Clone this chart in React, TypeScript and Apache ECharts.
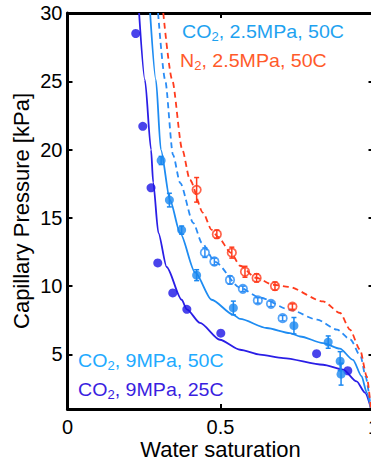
import React, { useEffect, useRef } from "react";
import * as echarts from "echarts";

const FONT = "'Liberation Sans', Arial, Helvetica, sans-serif";

// Axis ticks
const xTicks = [0, 0.5, 1];
const yTickValues = [5, 10, 15, 20, 25];
const yLabelValues = [5, 10, 15, 20, 25, 30];

// Measured points: water saturation (Sw) and capillary pressure (kPa)
const co2_9MPa_25C_sw = [0.223, 0.246, 0.273, 0.295, 0.344, 0.39, 0.501, 0.814, 0.916];
const co2_9MPa_25C_pc = [28.5, 21.7, 17.2, 11.7, 9.5, 8.3, 6.55, 5.05, 3.8];

const co2_9MPa_50C_sw = [0.306, 0.333, 0.373, 0.422, 0.542, 0.74, 0.852, 0.891, 0.894];
const co2_9MPa_50C_pc = [19.2, 16.3, 14.1, 10.8, 8.4, 7.1, 5.9, 4.5, 3.55];
const co2_9MPa_50C_err = [0.3, 0.5, 0.3, 0.4, 0.5, 0.6, 0.45, 0.7, 0.8];

const co2_2_5MPa_sw = [0.449, 0.48, 0.531, 0.573, 0.622, 0.665, 0.703];
const co2_2_5MPa_pc = [12.45, 11.8, 10.45, 9.8, 8.95, 8.7, 7.65];
const co2_2_5MPa_err = [0.35, 0.25, 0.3, 0.2, 0.2, 0.2, 0.2];

const n2_2_5MPa_sw = [0.422, 0.488, 0.537, 0.58, 0.618, 0.678, 0.735];
const n2_2_5MPa_pc = [17.05, 13.8, 12.45, 11.05, 10.6, 10.0, 8.5];
const n2_2_5MPa_err = [0.9, 0.3, 0.4, 0.4, 0.3, 0.3, 0.2];

// Fitted capillary pressure curves
const fit_co2_9MPa_25C_sw = [0.234, 0.253, 0.273, 0.28, 0.297, 0.324, 0.373, 0.39, 0.433, 0.498, 0.564, 0.629, 0.705, 0.835, 0.901, 0.945, 0.972, 0.991];
const fit_co2_9MPa_25C_pc = [30, 25.1, 20.0, 17.6, 13.9, 11.4, 9.0, 8.3, 7.3, 6.07, 5.34, 4.98, 4.73, 4.24, 3.88, 3.02, 2.2, 1.1];

const fit_co2_9MPa_50C_sw = [0.27, 0.289, 0.305, 0.335, 0.368, 0.417, 0.471, 0.542, 0.564, 0.651, 0.727, 0.76, 0.835, 0.89, 0.933, 0.961, 0.978, 0.991];
const fit_co2_9MPa_50C_pc = [30, 25.1, 20.0, 16.3, 13.9, 11.0, 9.0, 7.9, 7.6, 6.93, 6.56, 6.31, 5.83, 5.42, 4.6, 3.4, 2.2, 1.1];

const fit_co2_2_5MPa_sw = [0.296, 0.319, 0.345, 0.368, 0.411, 0.439, 0.482, 0.564, 0.629, 0.727, 0.816, 0.881, 0.925, 0.958, 0.974, 0.991];
const fit_co2_2_5MPa_pc = [30, 25.1, 19.6, 17.56, 14.63, 13.17, 11.78, 9.88, 9.15, 8.27, 7.54, 6.81, 6.07, 4.85, 3.39, 1.1];

const fit_n2_2_5MPa_sw = [0.313, 0.342, 0.375, 0.4, 0.443, 0.471, 0.492, 0.534, 0.564, 0.616, 0.672, 0.721, 0.835, 0.891, 0.923, 0.956, 0.978, 0.991];
const fit_n2_2_5MPa_pc = [30, 25.1, 20.0, 17.78, 15.37, 14.12, 13.6, 12.44, 11.49, 10.61, 10.1, 9.95, 8.88, 8.03, 6.81, 5.34, 3.39, 1.1];

const C_DARK = "#2a1ee6";
const C_MID = "#1e8cf2";
const C_DASH = "#2a8cf5";
const C_RED = "#ff3c1e";

const pairs = (xs: number[], ys: number[]) => xs.map((x, i) => [x, ys[i]]);

function fitLine(sw: number[], pc: number[], color: string, dashed: boolean) {
  return {
    type: "line",
    data: pairs(sw, pc),
    showSymbol: false,
    smooth: 0.25,
    smoothMonotone: "x",
    silent: true,
    z: 2,
    lineStyle: { color, width: 1.8, type: dashed ? [6, 4] : "solid" },
  };
}

function errorBars(sw: number[], pc: number[], err: number[], color: string) {
  return {
    type: "custom",
    silent: true,
    z: 5,
    data: sw.map((x, i) => [x, pc[i] - err[i], pc[i] + err[i]]),
    encode: { x: 0, y: [1, 2] },
    renderItem: (_params: any, api: any) => {
      const lo = api.coord([api.value(0), api.value(1)]);
      const hi = api.coord([api.value(0), api.value(2)]);
      const w = 2.5;
      const style = { stroke: color, lineWidth: 1.5 };
      return {
        type: "group",
        children: [
          { type: "line", shape: { x1: lo[0], y1: lo[1], x2: hi[0], y2: hi[1] }, style },
          { type: "line", shape: { x1: lo[0] - w, y1: lo[1], x2: lo[0] + w, y2: lo[1] }, style },
          { type: "line", shape: { x1: hi[0] - w, y1: hi[1], x2: hi[0] + w, y2: hi[1] }, style },
        ],
      };
    },
  };
}

function legendText(x: number, y: number, gas: string, rest: string, color: string) {
  return {
    type: "text",
    x,
    y,
    z: 10,
    scaleX: 1.09,
    style: {
      text: `{n|${gas}}{s|2}{n|${rest}}`,
      fill: color,
      align: "left",
      verticalAlign: "middle",
      textAlign: "left",
      textVerticalAlign: "middle",
      rich: {
        n: { fontSize: 18, fontFamily: FONT, fill: color, color, lineHeight: 22 },
        s: { fontSize: 12, fontFamily: FONT, fill: color, color, lineHeight: 12, verticalAlign: "bottom" },
      },
    },
  };
}

export default function App() {
  const ref = useRef<HTMLDivElement>(null);

  useEffect(() => {
    if (!ref.current) return;
    const chart = echarts.init(ref.current, null, { renderer: "svg" });
    const axisLine = { onZero: false, lineStyle: { color: "#000", width: 3 } };
    const axisTick = { inside: true, length: 5, lineStyle: { color: "#000", width: 2 } };

    chart.setOption({
      animation: false,
      backgroundColor: "#fff",
      grid: { left: 67.5, top: 13, width: 306, height: 396, outerBoundsMode: "none", containLabel: false },
      xAxis: [
        {
          type: "value",
          position: "bottom",
          min: xTicks[0],
          max: xTicks[xTicks.length - 1],
          interval: 0.5,
          axisLine,
          axisTick,
          splitLine: { show: false },
          axisLabel: { fontSize: 20, color: "#000", fontFamily: FONT, margin: 8 },
          name: "Water saturation",
          nameLocation: "middle",
          nameGap: 29,
          nameMoveOverlap: false,
          nameTextStyle: { fontSize: 22, color: "#000", fontFamily: FONT, lineHeight: 22 },
        },
        {
          type: "value",
          position: "top",
          min: 0,
          max: 1,
          interval: 0.5,
          axisLine,
          axisTick,
          splitLine: { show: false },
          axisLabel: { show: false },
        },
      ],
      yAxis: [
        {
          type: "value",
          position: "left",
          min: 1,
          max: 30,
          axisLine,
          axisTick: { ...axisTick, customValues: yTickValues },
          splitLine: { show: false },
          axisLabel: { customValues: yLabelValues, fontSize: 20, color: "#000", fontFamily: FONT, margin: 5 },
          name: "Capillary Pressure [kPa]",
          nameLocation: "middle",
          nameGap: 35,
          nameMoveOverlap: false,
          nameTextStyle: { fontSize: 22, color: "#000", fontFamily: FONT },
        },
        {
          type: "value",
          position: "right",
          min: 1,
          max: 30,
          axisLine,
          axisTick: { ...axisTick, customValues: yTickValues },
          splitLine: { show: false },
          axisLabel: { show: false },
        },
      ],
      series: [
        fitLine(fit_co2_9MPa_25C_sw, fit_co2_9MPa_25C_pc, C_DARK, false),
        fitLine(fit_co2_9MPa_50C_sw, fit_co2_9MPa_50C_pc, C_MID, false),
        fitLine(fit_co2_2_5MPa_sw, fit_co2_2_5MPa_pc, C_DASH, true),
        fitLine(fit_n2_2_5MPa_sw, fit_n2_2_5MPa_pc, C_RED, true),
        {
          type: "scatter",
          data: pairs(co2_9MPa_25C_sw, co2_9MPa_25C_pc),
          symbol: "circle",
          symbolSize: 9,
          z: 4,
          itemStyle: { color: "#1c14e6" },
        },
        {
          type: "scatter",
          data: pairs(co2_9MPa_50C_sw, co2_9MPa_50C_pc),
          symbol: "circle",
          symbolSize: 9,
          z: 4,
          itemStyle: { color: "#1a88f0" },
        },
        errorBars(co2_9MPa_50C_sw, co2_9MPa_50C_pc, co2_9MPa_50C_err, "#1a88f0"),
        {
          type: "scatter",
          data: pairs(co2_2_5MPa_sw, co2_2_5MPa_pc),
          symbol: "circle",
          symbolSize: 8.5,
          z: 4,
          itemStyle: { color: "rgba(255,255,255,0)", borderColor: C_DASH, borderWidth: 1.7 },
        },
        errorBars(co2_2_5MPa_sw, co2_2_5MPa_pc, co2_2_5MPa_err, C_DASH),
        {
          type: "scatter",
          data: pairs(n2_2_5MPa_sw, n2_2_5MPa_pc),
          symbol: "circle",
          symbolSize: 8.5,
          z: 4,
          itemStyle: { color: "rgba(255,255,255,0)", borderColor: C_RED, borderWidth: 1.7 },
        },
        errorBars(n2_2_5MPa_sw, n2_2_5MPa_pc, n2_2_5MPa_err, C_RED),
      ],
      graphic: [
        legendText(182, 32, "CO", ", 2.5MPa, 50C", "#1ea2f0"),
        legendText(180, 61, "N", ", 2.5MPa, 50C", "#ff5a2a"),
        legendText(78, 361, "CO", ", 9MPa, 50C", "#22aaff"),
        legendText(78, 390, "CO", ", 9MPa, 25C", "#3a1ee0"),
      ],
    });
    return () => chart.dispose();
  }, []);

  return (
    <div
      ref={ref}
      style={{ position: "fixed", left: 0, top: 0, width: 371, height: 461, background: "#fff" }}
    />
  );
}
